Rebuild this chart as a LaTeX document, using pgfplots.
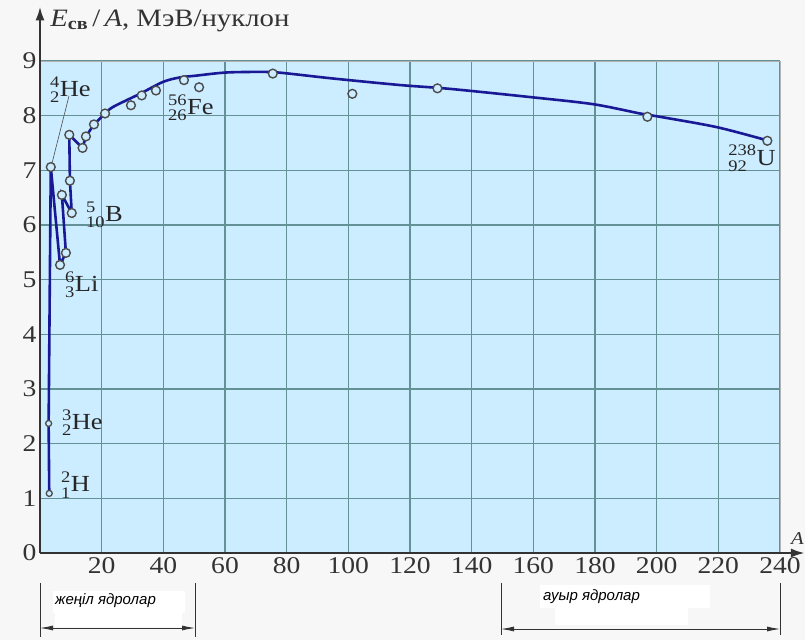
\documentclass[border=0pt]{standalone}
\usepackage{pgfplots}
\pgfplotsset{compat=1.18}
\usepackage{amsmath}
\usepackage{fontspec}
\setmainfont{Liberation Serif}[FakeStretch=1.15]
\newfontfamily\sans{Liberation Sans}
\usetikzlibrary{arrows.meta}

\definecolor{pagebg}{RGB}{247,247,247}
\definecolor{plotbg}{RGB}{204,236,255}
\definecolor{gridc}{RGB}{100,145,150}
\definecolor{curve}{RGB}{25,25,150}

% isotope label: mass number over charge, then symbol
\newcommand{\iso}[3]{${}^{\text{#1}}_{\text{#2}}$#3}

\begin{document}
\begin{tikzpicture}
\fill[pagebg, use as bounding box] (-40pt,-87pt) rectangle (765pt,553pt);
\begin{axis}[
    scale only axis,
    width=740pt, height=492pt,
    xmin=0, xmax=240, ymin=0, ymax=9,
    xtick={20,40,...,240},
    ytick={0,1,...,9},
    grid=major,
    major grid style={draw=gridc, line width=1.4pt},
    axis background/.style={fill=plotbg},
    axis line style={draw=gray!60, line width=0.8pt},
    major tick length=0pt,
    tick label style={font=\fontsize{24}{24}\selectfont, text=black!80},
    /pgf/number format/assume math mode=true,
    xticklabel style={yshift=-1pt},
    clip=false,
]
% light nuclei, joined in order
\addplot[curve, line width=2.6pt, no markers] coordinates {
    (3.0,1.09) (2.8,2.37) (3.5,7.06) (6.5,5.27) (8.4,5.49) (7.1,6.55)
    (10.3,6.22) (9.7,6.81) (9.5,7.65) (13.8,7.41) (14.9,7.62) (17.5,7.84) (21.1,8.04)
};
% smooth trend for the rest
\addplot[curve, line width=2.6pt, smooth, no markers] coordinates {
    (21.1,8.04) (23.7,8.16) (32.4,8.40) (40,8.62) (45.4,8.70) (50.3,8.73)
    (60.5,8.79) (73,8.80) (79,8.78) (95,8.68) (116.8,8.56) (133,8.49)
    (159,8.34) (179.4,8.21) (194.6,8.04) (201,7.98) (219.5,7.79) (235.7,7.55)
};
\addplot[only marks, mark=*, mark size=3pt,
    mark options={draw=black!70, fill=plotbg, line width=1.3pt}] coordinates {
    (3.0,1.09) (2.8,2.37)
};
\addplot[only marks, mark=*, mark size=4.4pt,
    mark options={draw=black!70, fill=plotbg, line width=1.4pt}] coordinates {
    (3.5,7.06) (6.5,5.27) (8.4,5.49) (7.1,6.55) (9.7,6.81) (10.3,6.22)
    (9.5,7.65) (13.8,7.41) (14.9,7.62) (17.5,7.84) (21.1,8.04) (29.5,8.19)
    (33,8.37) (37.6,8.46) (46.7,8.65) (51.6,8.52) (75.5,8.77) (101.3,8.40)
    (128.9,8.50) (197,7.98) (235.9,7.54)
};

% axes with arrows
\draw[line width=2.5pt, black!80, -{Latex[length=14pt,width=9pt]}] (axis cs:0,0) -- (axis cs:0,10.0);
\draw[line width=2.5pt, black!80, -{Latex[length=14pt,width=9pt]}] (axis cs:0,0) -- (axis cs:248.1,0);
\node[anchor=west, inner sep=0pt, font=\fontsize{25}{25}\selectfont, text=black!80] at (axis cs:3.3,9.74)
    {\textit{E}\textsubscript{\textbf{св}}\,/\,\textit{A}, МэВ/нуклон};

% isotope labels
\begin{scope}[every node/.style={anchor=west, inner sep=0pt, font=\fontsize{23}{23}\selectfont, text=black!85}]
\node at (axis cs:3.2,8.48) {\iso{4}{2}{He}};
\node at (axis cs:14.9,6.18) {\iso{5}{10}{B}};
\node at (axis cs:8.1,4.90) {\iso{6}{3}{Li}};
\node at (axis cs:7.1,2.38) {\iso{3}{2}{He}};
\node at (axis cs:6.8,1.24) {\iso{2}{1}{H}};
\node at (axis cs:41.5,8.14) {\iso{56}{26}{Fe}};
\node at (axis cs:223.2,7.22) {\iso{238}{92}{U}};
\end{scope}
\draw[black!70, line width=0.6pt] (axis cs:9.4,8.36) -- (axis cs:3.9,7.13);
\end{axis}

% x axis name at the arrow tip
\node[anchor=south east, inner sep=1pt, font=\itshape\fontsize{18}{18}\selectfont, text=black!80] at (765pt,7pt) {A};

% light / heavy nuclei ranges below the axis
\fill[white] (13pt,-38pt) rectangle (145pt,-60pt);
\fill[white] (15pt,-60pt) rectangle (142pt,-74pt);
\node[anchor=base west, inner sep=0pt, font=\sans\itshape\fontsize{15}{15}\selectfont] at (15pt,-51pt) {жеңіл ядролар};
\draw[line width=0.8pt, black!80] (0pt,-30pt) -- (0pt,-84pt);
\draw[line width=0.8pt, black!80] (155pt,-30pt) -- (155pt,-84pt);
\draw[line width=0.8pt, black!80, {Latex[length=13pt,width=5pt]}-{Latex[length=13pt,width=5pt]}] (0pt,-75pt) -- (155pt,-75pt);

\fill[white] (500pt,-32pt) rectangle (670pt,-55pt);
\fill[white] (515pt,-55pt) rectangle (648pt,-72pt);
\node[anchor=base west, inner sep=0pt, font=\sans\itshape\fontsize{15}{15}\selectfont] at (503pt,-47pt) {ауыр ядролар};
\draw[line width=0.8pt, black!80] (461pt,-30pt) -- (461pt,-82pt);
\draw[line width=0.8pt, black!80] (740pt,-30pt) -- (740pt,-82pt);
\draw[line width=0.8pt, black!80, {Latex[length=13pt,width=5pt]}-{Latex[length=13pt,width=5pt]}] (461pt,-76pt) -- (740pt,-76pt);
\end{tikzpicture}
\end{document}
